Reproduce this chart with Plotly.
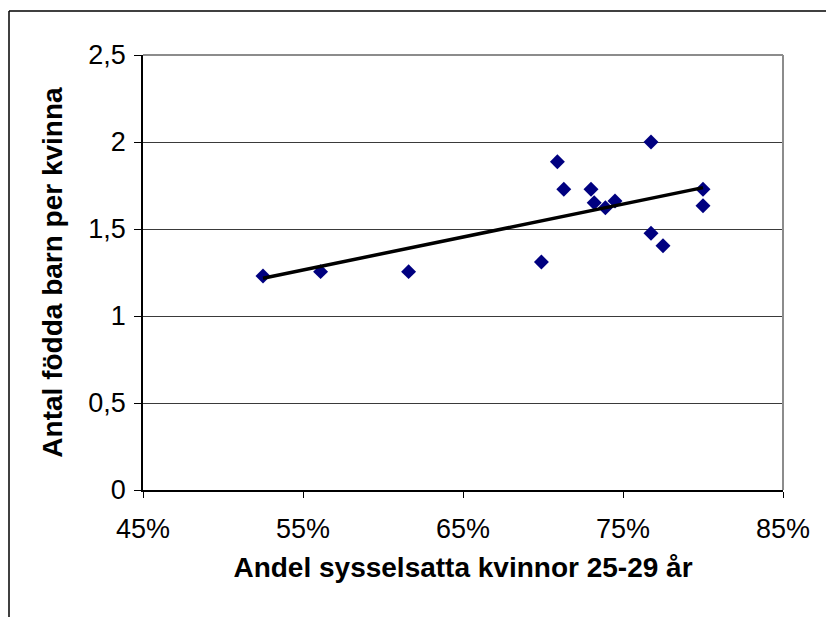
import numpy as np
import plotly.graph_objects as go

# Data
employment_pct = [52.5, 56.1, 61.6, 69.9, 70.9, 71.3, 73.0, 73.2, 73.9, 74.5, 76.75, 76.75, 77.5, 80.0, 80.0]
births_per_woman = [1.23, 1.255, 1.255, 1.31, 1.887, 1.728, 1.728, 1.651, 1.622, 1.661, 2.0, 1.475, 1.404, 1.728, 1.634]

x_ticks = [45, 55, 65, 75, 85]
x_ticktext = ["45%", "55%", "65%", "75%", "85%"]
y_ticks = [0, 0.5, 1, 1.5, 2, 2.5]
y_ticktext = ["0", "0,5", "1", "1,5", "2", "2,5"]

x_title = "Andel sysselsatta kvinnor 25-29 år"
y_title = "Antal födda barn per kvinna"

# Linear trend line computed from the data
slope, intercept = np.polyfit(employment_pct, births_per_woman, 1)
trend_x = [min(employment_pct), max(employment_pct)]
trend_y = [slope * v + intercept for v in trend_x]

FONT = "Liberation Sans, Arial, sans-serif"

fig = go.Figure()
fig.add_trace(go.Scatter(
    x=employment_pct, y=births_per_woman, mode="markers",
    marker=dict(symbol="diamond", size=11.5, color="#000080", line=dict(width=0)),
    showlegend=False, hoverinfo="x+y",
))
fig.add_trace(go.Scatter(
    x=trend_x, y=trend_y, mode="lines",
    line=dict(color="black", width=3.5),
    showlegend=False, hoverinfo="skip",
))

W, H = 826, 617
L, R, T, B = 143, 43, 55, 127
pw, ph = W - L - R, H - T - B

def px_x(p):
    return (p - L) / pw

def px_y(p):
    return (H - B - p) / ph

fig.update_layout(
    width=W, height=H,
    margin=dict(l=L, r=R, t=T, b=B),
    paper_bgcolor="white", plot_bgcolor="white",
    font=dict(family=FONT, color="black", size=27),
    xaxis=dict(
        range=[45, 85], tickvals=x_ticks, ticktext=x_ticktext,
        showgrid=False, zeroline=False,
        showline=True, linecolor="black", linewidth=1.5,
        ticks="outside", ticklen=6, tickwidth=1, tickcolor="black",
        tickfont=dict(size=27), ticklabelstandoff=8,
        title=dict(text=x_title, font=dict(size=28, family=FONT, weight="bold"), standoff=14),
    ),
    yaxis=dict(
        range=[0, 2.5], tickvals=y_ticks, ticktext=y_ticktext,
        showgrid=True, gridcolor="#3a3a3a", gridwidth=1, zeroline=False,
        showline=True, linecolor="black", linewidth=1.5,
        ticks="outside", ticklen=7, tickwidth=1, tickcolor="black",
        tickfont=dict(size=27), ticklabelstandoff=3,
        title=dict(text=y_title, font=dict(size=28, family=FONT, weight="bold"), standoff=18),
    ),
    shapes=[
        # gray plot-area border (top and right)
        dict(type="line", xref="paper", yref="paper", x0=0, x1=1, y0=1, y1=1,
             line=dict(color="#8c8c8c", width=2), layer="above"),
        dict(type="line", xref="paper", yref="paper", x0=1, x1=1, y0=0, y1=1,
             line=dict(color="#8c8c8c", width=2), layer="above"),
        # chart frame (top and left, running off the canvas)
        dict(type="line", xref="paper", yref="paper",
             x0=px_x(9), x1=px_x(840), y0=px_y(11), y1=px_y(11),
             line=dict(color="black", width=1.5)),
        dict(type="line", xref="paper", yref="paper",
             x0=px_x(9), x1=px_x(9), y0=px_y(11), y1=px_y(640),
             line=dict(color="black", width=1.5)),
    ],
)

fig.write_html("out.html", config={"displayModeBar": False},
               post_script="document.body.style.margin='0px';")
